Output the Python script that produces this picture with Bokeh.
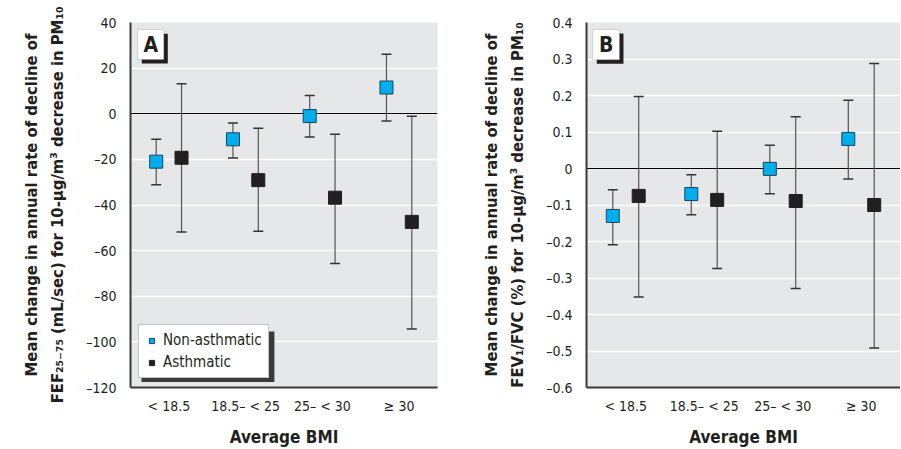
from bokeh.plotting import figure
from bokeh.layouts import row
from bokeh.models import (FactorRange, Range1d, FixedTicker, BoxAnnotation, Label,
                          Legend, LegendItem, ColumnDataSource)
from bokeh.transform import dodge
from bokeh.embed import file_html
from bokeh.resources import INLINE

# ---------------- data ----------------
bmi_groups = ["< 18.5", "18.5\u2013 < 25", "25\u2013 < 30", "\u2265 30"]

fef_nonasth = [-21.0, -11.2, -1.0, 11.5]
fef_nonasth_lo = [-31.1, -19.4, -10.2, -3.2]
fef_nonasth_hi = [-11.2, -4.0, 8.0, 26.1]
fef_asth = [-19.3, -29.1, -36.8, -47.4]
fef_asth_lo = [-51.8, -51.5, -65.6, -94.4]
fef_asth_hi = [13.2, -6.4, -9.0, -1.1]

fev_nonasth = [-0.130, -0.070, -0.001, 0.081]
fev_nonasth_lo = [-0.209, -0.127, -0.069, -0.029]
fev_nonasth_hi = [-0.058, -0.017, 0.064, 0.187]
fev_asth = [-0.075, -0.086, -0.089, -0.100]
fev_asth_lo = [-0.352, -0.274, -0.329, -0.492]
fev_asth_hi = [0.197, 0.102, 0.142, 0.288]

fef_ticks = [-120, -100, -80, -60, -40, -20, 0, 20, 40]
fef_tick_labels = ["\u2013120", "\u2013100", "\u201380", "\u201360", "\u201340", "\u201320", "0", "20", "40"]
fev_ticks = [-0.6, -0.5, -0.4, -0.3, -0.2, -0.1, 0, 0.1, 0.2, 0.3, 0.4]
fev_tick_labels = ["\u20130.6", "\u20130.5", "\u20130.4", "\u20130.3", "\u20130.2", "\u20130.1", "0",
                   "0.1", "0.2", "0.3", "0.4"]

ylabel_a = "Mean change in annual rate of decline of\nFEF\u2082\u2085\u208b\u2087\u2085 (mL/sec) for 10-\u00b5g/m\u00b3 decrease in PM\u2081\u2080"
ylabel_b = "Mean change in annual rate of decline of\nFEV\u2081/FVC (%) for 10-\u00b5g/m\u00b3 decrease in PM\u2081\u2080"
xlabel = "Average BMI"
series_names = ["Non-asthmatic", "Asthmatic"]

FONT = "DejaVu Sans Condensed"
BG = "#e6e7e8"
BLUE = "#00aeef"
BLACK = "#231f20"
TXT = "#231f20"


def panel(na, na_lo, na_hi, a, a_lo, a_hi, ticks, tick_labels, yr, ylabel, letter,
          width, mbl, mbr, letter_box, letter_shadow, show_legend):
    p = figure(x_range=FactorRange(*bmi_groups), y_range=Range1d(*yr),
               width=width, height=449, output_backend="svg", toolbar_location=None,
               min_border_left=mbl, min_border_right=mbr, min_border_top=22,
               min_border_bottom=61)
    p.background_fill_color = BG
    p.outline_line_color = None
    p.border_fill_color = "white"

    p.xgrid.grid_line_color = None
    p.ygrid.ticker = FixedTicker(ticks=ticks)
    p.ygrid.grid_line_color = "white"
    p.ygrid.grid_line_width = 1.5

    for ax in (p.xaxis[0], p.yaxis[0]):
        ax.axis_line_color = "#3a3a3a"
        ax.axis_line_width = 2
        ax.major_tick_line_color = None
        ax.minor_tick_line_color = None
        ax.major_label_text_font = FONT
        ax.major_label_text_font_size = "14px"
        ax.major_label_text_color = TXT
        ax.axis_label_text_font = FONT
        ax.axis_label_text_font_style = "bold"
        ax.axis_label_text_color = TXT

    p.yaxis.ticker = FixedTicker(ticks=ticks)
    p.yaxis.major_label_overrides = dict(zip(ticks, tick_labels))
    p.yaxis.major_label_standoff = 8
    p.yaxis.axis_label = ylabel
    p.yaxis.axis_label_text_font_size = "16.5px"
    p.yaxis.axis_label_text_line_height = 1.4
    p.yaxis.axis_label_standoff = 16

    p.xaxis.major_label_standoff = 4
    p.xaxis.axis_label = xlabel
    p.xaxis.axis_label_text_font_size = "17px"
    p.xaxis.axis_label_standoff = 10

    # zero line
    p.hspan(y=[0], line_color="black", line_width=1)

    src_na = ColumnDataSource(dict(x=bmi_groups, y=na, lo=na_lo, hi=na_hi))
    src_a = ColumnDataSource(dict(x=bmi_groups, y=a, lo=a_lo, hi=a_hi))
    off = 0.165
    for src, d in ((src_na, -off), (src_a, off)):
        xd = dodge("x", d, range=p.x_range)
        p.segment(x0=xd, y0="lo", x1=xd, y1="hi", source=src, line_color="#555555", line_width=1.2)
        p.scatter(x=xd, y="lo", source=src, marker="dash", size=10, line_color="#333333", line_width=1.5)
        p.scatter(x=xd, y="hi", source=src, marker="dash", size=10, line_color="#333333", line_width=1.5)

    r_na = p.scatter(x=dodge("x", -off, range=p.x_range), y="y", source=src_na, marker="square",
                     size=13, fill_color=BLUE, line_color="#17475c", line_width=1)
    r_a = p.scatter(x=dodge("x", off, range=p.x_range), y="y", source=src_a, marker="square",
                    size=13, fill_color=BLACK, line_color=BLACK, line_width=1)

    # panel letter box with shadow
    l, r, b, t = letter_shadow
    p.add_layout(BoxAnnotation(left=l, right=r, bottom=b, top=t, fill_color=BLACK, fill_alpha=1,
                               line_color=None))
    l, r, b, t = letter_box
    p.add_layout(BoxAnnotation(left=l, right=r, bottom=b, top=t, fill_color="white", fill_alpha=1,
                               line_color="#8a8a8a", line_width=1))
    p.add_layout(Label(x=(l + r) / 2, y=(b + t) / 2, text=letter, text_align="center",
                       text_baseline="middle", text_font=FONT, text_font_style="bold",
                       text_font_size="21px", text_color=TXT))

    if show_legend:
        p.add_layout(BoxAnnotation(left=0.143, right=1.875, bottom=-117.6, top=-95.5,
                                   fill_color="#3a3a3a", fill_alpha=1, line_color=None))
        leg = Legend(items=[LegendItem(label=series_names[0], renderers=[r_na]),
                            LegendItem(label=series_names[1], renderers=[r_a])],
                     location=(8, 9), orientation="vertical")
        leg.label_text_font = FONT
        leg.label_text_font_size = "15px"
        leg.label_text_color = TXT
        leg.glyph_width = 13
        leg.glyph_height = 13
        leg.label_height = 18
        leg.spacing = 4
        leg.padding = 6
        leg.margin = 0
        leg.label_standoff = 5
        leg.border_line_color = "#8a8a8a"
        leg.border_line_width = 1
        leg.background_fill_color = "white"
        leg.background_fill_alpha = 1
        p.add_layout(leg)
    return p


pa = panel(fef_nonasth, fef_nonasth_lo, fef_nonasth_hi, fef_asth, fef_asth_lo, fef_asth_hi,
           fef_ticks, fef_tick_labels, (-120, 40), ylabel_a, "A", 460, 130, 23,
           (0.095, 0.434, 23.75, 36.9), (0.147, 0.486, 22.0, 35.1), True)
pb = panel(fev_nonasth, fev_nonasth_lo, fev_nonasth_hi, fev_asth, fev_asth_lo, fev_asth_hi,
           fev_ticks, fev_tick_labels, (-0.6, 0.4), ylabel_b, "B", 440, 126, 0,
           (0.080, 0.420, 0.298, 0.381), (0.131, 0.471, 0.287, 0.370), False)

layout = row(pa, pb, spacing=0)
open("out.html", "w").write(file_html(layout, INLINE))
